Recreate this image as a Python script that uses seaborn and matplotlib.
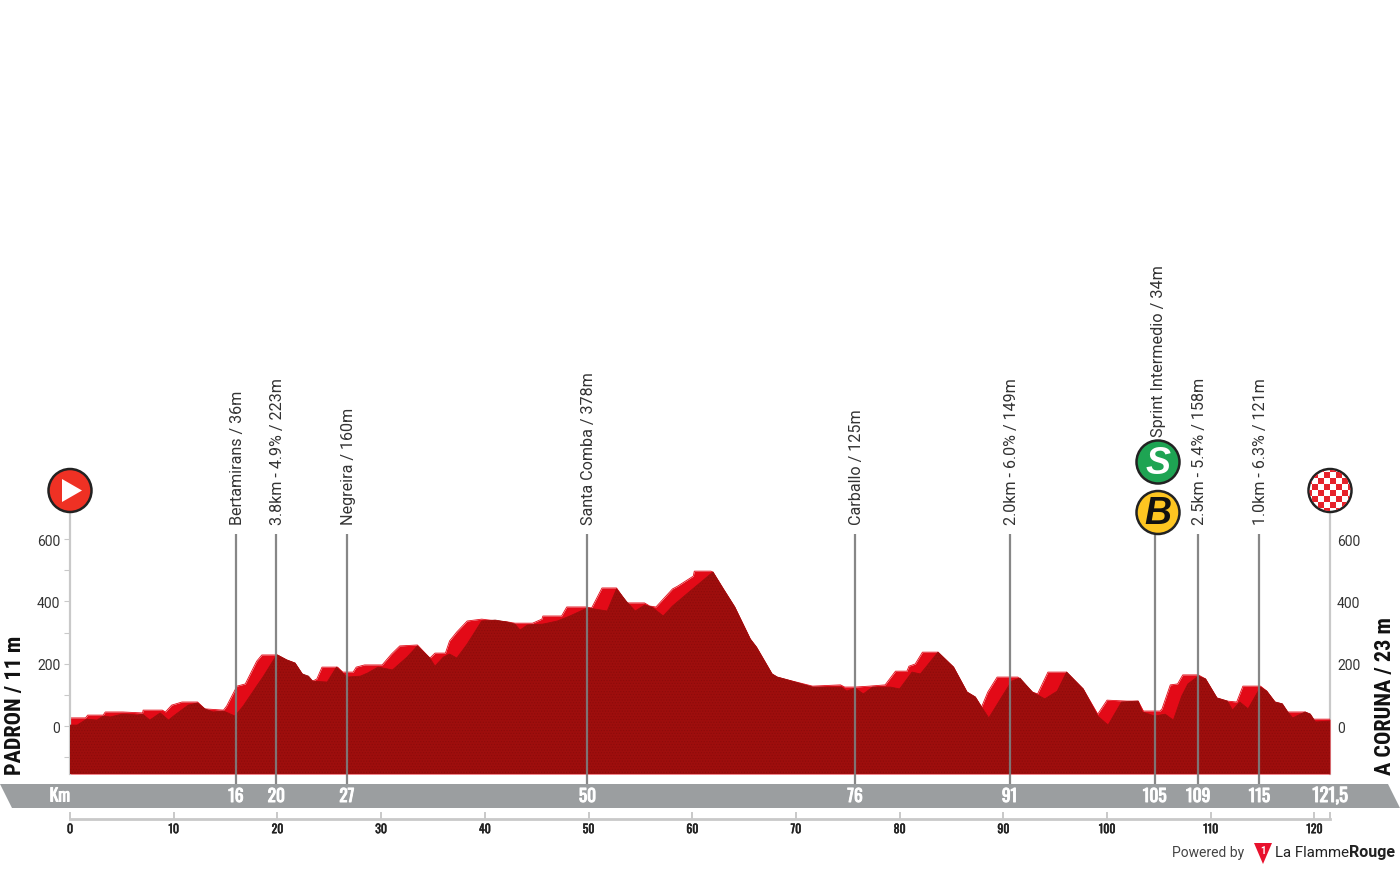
import matplotlib
matplotlib.use("Agg")
import matplotlib.pyplot as plt
from matplotlib import font_manager
from matplotlib import patheffects as pe
from matplotlib.patches import Circle, Polygon, Rectangle
import seaborn as sns

# profile: km and altitude in m
front_km = [0, 0.7, 1.6, 2.6, 3.2, 3.9, 5.0, 5.5, 6.5, 7.0, 7.7, 8.7, 9.5, 10.1, 11.4, 12.3, 13.0, 13.8, 14.8, 15.9,
            16.7, 18.0, 18.6, 19.8, 20.0, 20.9, 21.7, 22.4, 23.0, 23.4, 24.8, 25.7, 26.7, 28.0, 28.7, 29.7, 31.1, 32.5,
            33.5, 34.7, 35.2, 36.0, 36.6, 37.3, 38.3, 39.7, 41.0, 42.1, 42.9, 43.4, 44.1, 45.6, 47.0, 48.2, 49.9, 51.8,
            52.7, 53.7, 54.5, 55.4, 56.1, 57.2, 58.1, 59.8, 62.0, 63.0, 64.1, 65.6, 66.2, 67.7, 68.2, 69.2, 71.6, 73.3,
            74.4, 74.9, 75.7, 76.5, 77.4, 79.1, 80.0, 81.2, 82.0, 83.7, 85.2, 86.5, 87.3, 87.9, 88.6, 89.9, 90.8, 91.6,
            92.8, 94.0, 95.2, 96.1, 97.7, 99.1, 100.1, 101.4, 103.0, 103.4, 104.6, 105.6, 106.4, 107.2, 107.8, 108.8,
            109.5, 110.6, 111.6, 112.1, 112.8, 113.6, 114.8, 115.4, 116.2, 116.9, 117.5, 117.9, 119.1, 119.6, 120.1, 121.5]
front_m = [3, 3, 22, 19, 32, 29, 38, 38, 35, 38, 19, 42, 19, 35, 67, 74, 55, 45, 48, 32,
           64, 128, 157, 221, 228, 212, 202, 167, 160, 144, 141, 189, 157, 160, 170, 189, 180, 221,
           257, 218, 192, 221, 231, 218, 263, 337, 340, 334, 327, 308, 324, 327, 337, 353, 379, 369,
           440, 398, 369, 388, 382, 353, 385, 433, 494, 440, 382, 279, 253, 167, 157, 148, 125, 125,
           125, 112, 122, 103, 125, 125, 119, 173, 167, 237, 189, 109, 93, 61, 26, 96, 144, 154,
           109, 87, 112, 173, 119, 32, 3, 77, 80, 45, 32, 38, 19, 96, 135, 160,
           151, 90, 80, 51, 77, 55, 125, 112, 77, 71, 42, 26, 45, 38, 13, 16]

# the brighter red ridge behind it
back_km = [0, 1.5, 1.7, 3.2, 3.4, 5.1, 7.0, 7.05, 8.9, 9.2, 9.8, 10.8, 12.3, 13.0, 14.8, 15.1, 16.1, 16.9, 18.0, 18.5,
           20.0, 20.9, 21.7, 22.4, 23.4, 23.8, 24.3, 25.8, 26.3, 27.3, 27.6, 28.4, 30.1, 31.0, 31.8, 33.5, 34.7, 35.2,
           36.2, 36.6, 37.3, 38.3, 39.7, 41.2, 42.2, 42.9, 44.6, 45.5, 45.6, 47.4, 47.9, 49.7, 50.3, 51.3, 52.7, 53.7,
           55.4, 55.9, 56.5, 58.1, 58.6, 60.1, 60.2, 61.8, 62.0, 63.0, 64.1, 65.6, 66.2, 67.7, 68.2, 69.2, 71.6, 74.3,
           74.7, 75.7, 77.1, 78.6, 79.6, 80.7, 80.9, 81.5, 82.2, 83.7, 85.2, 86.5, 87.3, 87.9, 88.5, 89.4, 91.4, 92.8,
           93.3, 94.3, 96.1, 97.7, 99.1, 100.0, 101.9, 103.0, 103.5, 105.1, 105.3, 106.1, 106.8, 107.3, 108.8, 109.5,
           110.6, 111.6, 112.5, 113.1, 114.8, 115.4, 116.2, 116.9, 117.4, 119.1, 119.6, 119.9, 121.5]
back_m = [26, 26, 35, 35, 45, 45, 42, 51, 51, 45, 67, 77, 77, 55, 51, 64, 128, 135, 208, 228,
          228, 212, 202, 167, 144, 151, 189, 189, 173, 173, 189, 196, 196, 231, 257, 260, 218, 234,
          234, 273, 302, 337, 343, 337, 334, 330, 330, 343, 353, 353, 382, 382, 379, 443, 443, 395,
          395, 385, 382, 440, 449, 481, 497, 497, 494, 440, 382, 279, 253, 167, 157, 148, 128, 132,
          125, 125, 128, 132, 176, 176, 192, 199, 237, 237, 189, 109, 93, 61, 109, 157, 157, 109,
          103, 173, 173, 119, 38, 83, 80, 80, 48, 48, 55, 132, 135, 164, 164, 151,
          90, 80, 77, 128, 128, 112, 77, 71, 45, 45, 38, 22, 22]

pass_km = [16.0, 19.9, 26.7, 49.9, 75.7, 90.6, 104.6, 108.8, 114.7]
pass_ticks = ["16", "20", "27", "50", "76", "91", "105", "109", "115"]
pass_names = ["Bertamirans / 36m", "3.8km - 4.9% / 223m", "Negreira / 160m", "Santa Comba / 378m", "Carballo / 125m",
              "2.0km - 6.0% / 149m", "Sprint Intermedio / 34m", "2.5km - 5.4% / 158m", "1.0km - 6.3% / 121m"]
alt_major = [0, 200, 400, 600]
alt_minor = [-100, 100, 300, 500]
km_ticks = [0, 10, 20, 30, 40, 50, 60, 70, 80, 90, 100, 110, 120, 121.5]
km_labels = ["0", "10", "20", "30", "40", "50", "60", "70", "80", "90", "100", "110", "120", ""]

W, H = 1400, 870
GREY = "#c9c9c9"

sns.set_theme(style="white")
plt.rcParams["font.family"] = ["Roboto", "DejaVu Sans"]
plt.rcParams["hatch.linewidth"] = 0.5

# narrow faces for the band and the town names, whichever is around
have = {f.name for f in font_manager.fontManager.ttflist}
NARROW = next((n for n in ["Oswald", "Roboto Condensed", "Archivo Narrow", "Liberation Sans Narrow"] if n in have),
              "Liberation Sans")
TOWN = next((n for n in ["Roboto Condensed", "Archivo Narrow", "Asap Condensed", "Liberation Sans Narrow"] if n in have),
            "Liberation Sans")


def px_rect(left, top, right, bottom):
    return [left / W, 1 - bottom / H, (right - left) / W, (bottom - top) / H]


fig = plt.figure(figsize=(14, 8.7), dpi=100, facecolor="white")

# main profile
ax = fig.add_axes(px_rect(70, 512, 1330, 775), facecolor="none")
ax.fill_between(back_km, back_m, -154, color="#e30a17", lw=0)
sns.lineplot(x=back_km, y=back_m, ax=ax, color="#e30a17", lw=0.6, estimator=None, sort=False)
ax.fill_between(front_km, front_m, -154, facecolor="#9e0e0d", edgecolor="#8c0b0a", hatch="......", lw=0, zorder=3)
sns.lineplot(x=front_km, y=front_m, ax=ax, color="#9b0e0d", lw=0.6, estimator=None, sort=False, zorder=3)
ax.set_xlim(0, 121.5)
ax.set_ylim(-154, 690)
ax.set_xticks([])
ax.set_yticks(alt_major)
ax.set_yticks(alt_minor, minor=True)
ax.tick_params(axis="y", which="both", direction="out", length=4, width=0.8, color=GREY, left=True, pad=3,
               labelsize=10, labelcolor="#333333")

ax_r = ax.twinx()
ax_r.set_zorder(-1)
ax_r.set_ylim(ax.get_ylim())
ax_r.set_yticks(alt_major)
ax_r.set_yticks(alt_minor, minor=True)
ax_r.tick_params(axis="y", which="both", direction="out", length=4, width=0.8, color=GREY, right=True, pad=1,
                 labelsize=10, labelcolor="#333333")
ax_r.grid(False)
ax.grid(False)
sns.despine(ax=ax, top=True, bottom=True, right=True)
sns.despine(ax=ax_r, top=True, bottom=True, left=True, right=False)
ax.spines["left"].set(color=GREY, linewidth=1.6)
ax_r.spines["right"].set(color=GREY, linewidth=1.6)
ax.set_ylabel("")

# km ruler below the band
ax_km = fig.add_axes(px_rect(70, 813, 1330, 820), facecolor="none")
ax_km.set_xlim(0, 121.5)
ax_km.set_yticks([])
ax_km.set_xticks(km_ticks)
labels = ax_km.set_xticklabels(km_labels, family=NARROW, fontsize=8.5, color="#222222")
for lab in labels:
    lab.set_path_effects([pe.withStroke(linewidth=0.35, foreground="#222222")])
ax_km.tick_params(axis="x", direction="in", length=5, width=1.4, color=GREY, bottom=True, pad=3)
sns.despine(ax=ax_km, left=True, top=True, right=True)
ax_km.spines["bottom"].set(color=GREY, linewidth=2)

# overlay in pixel coordinates for the furniture
ov = fig.add_axes([0, 0, 1, 1], facecolor="none", zorder=-2)
ov.set_xlim(0, W)
ov.set_ylim(H, 0)
ov.axis("off")
ov.add_patch(Polygon([(0, 785), (1388, 785), (1400, 809), (12, 809)], color="#9b9ea0", lw=0))

top = fig.add_axes([0, 0, 1, 1], facecolor="none", zorder=5)
top.set_xlim(0, W)
top.set_ylim(H, 0)
top.axis("off")

white_edge = [pe.withStroke(linewidth=0.7, foreground="white")]


def to_px(km):
    return 70 + km * 1260 / 121.5


for km, tick, name in zip(pass_km, pass_ticks, pass_names):
    x = to_px(km)
    ax.vlines(km, -186, 616, color="#7d7d7d", lw=1.6, alpha=0.92, zorder=4, clip_on=False)
    top.text(x, 797.5, tick, ha="center", va="center", color="white", family=NARROW, fontsize=12.5,
             path_effects=white_edge)
    if name.startswith("Sprint"):
        top.text(x + 4, 437, name, rotation=90, ha="center", va="bottom", fontsize=11.7, color="#333333")
    else:
        top.text(x + 1.5, 525, name, rotation=90, ha="center", va="bottom", fontsize=11.6, color="#333333")

top.text(70, 797, "Km", ha="right", va="center", color="white", family=NARROW, fontsize=12.5, path_effects=white_edge)
top.text(1330, 797, "121,5", ha="center", va="center", color="white", family=NARROW, fontsize=13.5,
         path_effects=white_edge)

top.text(15.5, 775, "PADRON / 11 m", rotation=90, ha="center", va="bottom", family=TOWN, weight="bold", fontsize=16,
         color="#111111")
top.text(1385.5, 775, "A CORUNA / 23 m", rotation=90, ha="center", va="bottom", family=TOWN, weight="bold", fontsize=16,
         color="#111111")


def badge(x, y, color):
    c = Circle((x, y), 21.5, facecolor=color, edgecolor="#222222", lw=1.8, zorder=6)
    top.add_patch(c)
    return c


# start
badge(70, 491.5, "#ef3124")
top.add_patch(Polygon([(62, 480), (82, 491.5), (62, 503)], color="white", lw=0, zorder=7))

# finish, red and white squares
badge(1330, 491.5, "white")
for i in range(-5, 5):
    for j in range(-5, 5):
        if (i + j) % 2 == 0:
            sq = Rectangle((1330 + i * 6 - 0.5, 491.5 + j * 6 - 0.5), 6, 6, color="#e6222b", lw=0, zorder=7)
            top.add_patch(sq)
            sq.set_clip_path(Circle((1330, 491.5), 20.5, transform=top.transData))

# sprint and bonus badges
badge(1158, 463, "#1ea453")
top.text(1158, 464, "S", ha="center", va="center", color="white", family="Liberation Sans", weight="bold",
         style="italic", fontsize=27, zorder=7)
badge(1158, 513.5, "#fdc521")
top.text(1158, 514.5, "B", ha="center", va="center", color="#111111", family="Liberation Sans", weight="bold",
         style="italic", fontsize=27, zorder=7)

# logo
top.text(1172, 853, "Powered by", ha="left", va="center", fontsize=10, color="#444444")
top.add_patch(Polygon([(1254, 844), (1272, 844), (1263, 865)], color="#e8112d", lw=0))
top.text(1263, 851.5, "1", ha="center", va="center", fontsize=7, color="white", weight="bold")
top.text(1275, 853, "La Flamme", ha="left", va="center", fontsize=10.8, color="#222222")
top.text(1349, 853, "Rouge", ha="left", va="center", fontsize=11.5, color="#222222", weight="bold")

fig.savefig("out.png", dpi=100, facecolor="white")
